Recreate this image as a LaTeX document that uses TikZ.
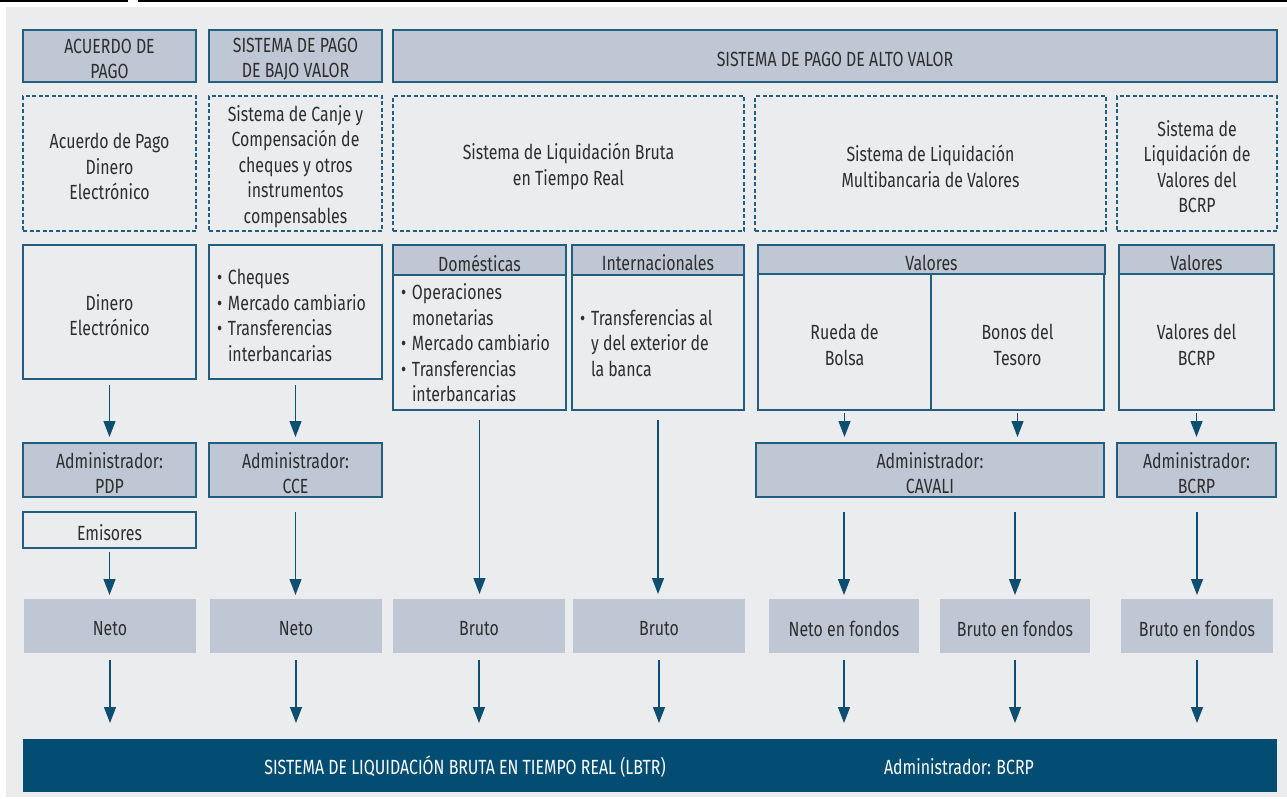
\documentclass[tikz,border=0pt]{standalone}
\usepackage{fontspec}
\setmainfont[FakeStretch=0.775]{Fira Sans}
\usetikzlibrary{arrows.meta}
\definecolor{bgc}{HTML}{EBECEE}
\definecolor{boxf}{HTML}{C0C7D4}
\definecolor{bord}{HTML}{215E80}
\definecolor{darkb}{HTML}{024D71}
\definecolor{arr}{HTML}{0E4E70}
\definecolor{txtc}{HTML}{2E2E2E}
\newcommand\bx[7]{\node[#6, minimum width={#4-#2}, minimum height={#5-#3}, label={[yshift=-3pt]center:#7}] (#1) at ({(#2+#4)/2},{(#3+#5)/2}) {};}
\newcommand\bul{\makebox[11pt][l]{•}}
\newcommand\ind{\hspace*{11pt}}
\begin{document}
\begin{tikzpicture}[x=1pt,y=-1pt,
  every node/.style={inner sep=0pt, outer sep=0pt, text=txtc, font=\fontsize{20.5}{25.5}\selectfont, align=center},
  every label/.style={inner sep=0pt, outer sep=0pt, text=txtc, font=\fontsize{20.5}{25.5}\selectfont, align=center, draw=none, fill=none},
  hdr/.style={draw=bord, fill=boxf, line width=1.3pt},
  dsh/.style={draw=bord, line width=1.1pt, dash pattern=on 4pt off 2.5pt},
  plain/.style={draw=bord, line width=1.3pt},
  res/.style={fill=boxf},
  bartext/.style={text=white},
  con/.style={draw=arr, line width=1.2pt, -{Triangle[width=12pt,length=16pt]}},
  txtl/.style={anchor=west, align=left}
]
\useasboundingbox (0,0) rectangle (1287,798);
\fill[bgc] (6,7) rectangle (1287,797);
\draw[black, line width=2pt] (0,1) -- (128,1);
\draw[black, line width=2pt] (138,1) -- (1287,1);

% headers
\bx{h1}{23}{30}{196}{82}{hdr}{ACUERDO DE\\PAGO}
\bx{h2}{209}{30}{382}{82}{hdr}{SISTEMA DE PAGO\\DE BAJO VALOR}
\bx{h3}{393}{30}{1277}{82}{hdr}{SISTEMA DE PAGO DE ALTO VALOR}

% dashed systems
\bx{d1}{23}{96}{196}{231}{dsh}{Acuerdo de Pago\\Dinero\\Electrónico}
\bx{d2}{209}{96}{382}{231}{dsh}{Sistema de Canje y\\Compensación de\\cheques y otros\\instrumentos\\compensables}
\bx{d3}{393}{96}{744}{231}{dsh}{Sistema de Liquidación Bruta\\en Tiempo Real}
\bx{d4}{755}{96}{1106}{231}{dsh}{Sistema de Liquidación\\Multibancaria de Valores}
\bx{d5}{1117}{96}{1277}{231}{dsh}{Sistema de\\Liquidación de\\Valores del\\BCRP}

% row 3
\bx{r1}{23}{245}{196}{379}{plain}{Dinero\\Electrónico}
\bx{r2}{209}{245}{382}{379}{plain}{}
\node[txtl] (t2) at (217,315.5) {\bul Cheques\\\bul Mercado cambiario\\\bul Transferencias\\\ind interbancarias};
\bx{domh}{393}{245}{566}{275}{hdr}{Domésticas}
\bx{domb}{393}{275}{566}{410}{plain}{}
\node[txtl] (td) at (401,343) {\bul Operaciones\\\ind monetarias\\\bul Mercado cambiario\\\bul Transferencias\\\ind interbancarias};
\bx{inth}{572}{245}{744}{275}{hdr}{Internacionales}
\bx{intb}{572}{275}{744}{410}{plain}{}
\node[txtl] (ti) at (580,343) {\bul Transferencias al\\\ind y del exterior de\\\ind la banca};
\bx{valh}{758}{245}{1105}{274}{hdr}{Valores}
\bx{rue}{758}{274}{931}{410}{plain}{Rueda de\\Bolsa}
\bx{bon}{931}{274}{1104}{410}{plain}{Bonos del\\Tesoro}
\bx{v5h}{1119}{245}{1274}{274}{hdr}{Valores}
\bx{v5b}{1119}{274}{1274}{410}{plain}{Valores del\\BCRP}

% administrators
\bx{a1}{23}{443}{196}{497}{hdr}{Administrador:\\PDP}
\bx{a2}{209}{443}{382}{497}{hdr}{Administrador:\\CCE}
\bx{a4}{756}{443}{1104}{497}{hdr}{Administrador:\\CAVALI}
\bx{a5}{1117}{443}{1276}{497}{hdr}{Administrador:\\BCRP}
\bx{em}{23}{512}{196}{548}{plain}{Emisores}

% results
\bx{n1}{24}{599}{196}{653}{res}{Neto}
\bx{n2}{210}{599}{382}{653}{res}{Neto}
\bx{n3}{393}{599}{565}{653}{res}{Bruto}
\bx{n4}{573}{599}{745}{653}{res}{Bruto}
\bx{n5}{769}{599}{919}{653}{res}{Neto en fondos}
\bx{n6}{940}{599}{1090}{653}{res}{Bruto en fondos}
\bx{n7}{1121}{599}{1273}{653}{res}{Bruto en fondos}

% bottom bar
\bx{bar}{23}{739}{1277}{792}{fill=darkb}{}
\node[bartext] (bt1) at (465,767) {SISTEMA DE LIQUIDACIÓN BRUTA EN TIEMPO REAL (LBTR)};
\node[bartext] (bt2) at (959,767) {Administrador: BCRP};

% connectors
\draw[con, shorten <=6pt, shorten >=6pt] (r1.south) -- (r1.south |- a1.north);
\draw[con, shorten <=6pt, shorten >=6pt] (r2.south) -- (r2.south |- a2.north);
\draw[con, shorten <=4pt, shorten >=4pt] (em.south) -- (em.south |- n1.north);
\draw[con, shorten <=15pt, shorten >=4pt] (a2.south) -- (a2.south |- n2.north);
\draw[con, shorten <=10pt, shorten >=5pt] (domb.south) -- (domb.south |- n3.north);
\draw[con, shorten <=10pt, shorten >=5pt] (intb.south) -- (intb.south |- n4.north);
\draw[con, shorten <=3pt, shorten >=6pt] (rue.south) -- (rue.south |- a4.north);
\draw[con, shorten <=3pt, shorten >=6pt] (bon.south) -- (bon.south |- a4.north);
\draw[con, shorten <=3pt, shorten >=6pt] (v5b.south) -- (v5b.south |- a5.north);
\draw[con, shorten <=15pt, shorten >=4pt] (a4.south -| n5.north) -- (n5.north);
\draw[con, shorten <=15pt, shorten >=4pt] (a4.south -| n6.north) -- (n6.north);
\draw[con, shorten <=15pt, shorten >=4pt] (a5.south -| n7.north) -- (n7.north);
\foreach \n in {n1,n2,n3,n4,n5,n6,n7}{
  \draw[con, shorten <=7pt, shorten >=16pt] (\n.south) -- (\n.south |- bar.north);
}
\end{tikzpicture}
\end{document}
